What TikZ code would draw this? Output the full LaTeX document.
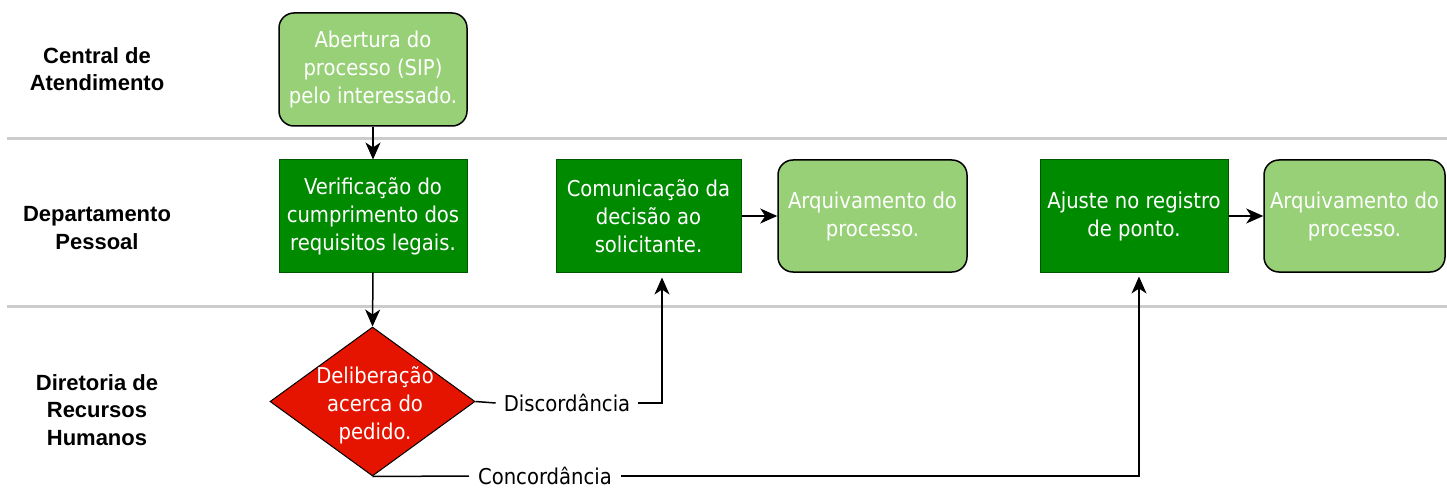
\documentclass[tikz,border=0pt]{standalone}
\usepackage{fontspec}
\setmainfont{DejaVu Sans Condensed}
\newfontfamily\lanefont{Liberation Sans}
\usetikzlibrary{shapes.geometric,arrows.meta}
\definecolor{lgreen}{HTML}{97D077}
\definecolor{dgreen}{HTML}{008A00}
\definecolor{dgreenline}{HTML}{005700}
\definecolor{dred}{HTML}{E51400}
\definecolor{lanegray}{HTML}{CCCCCC}
\tikzset{
  body/.style={font=\fontsize{21.8}{28}\selectfont, align=center, text=white},
  roundbox/.style={body, draw=black, line width=1.5pt, fill=lgreen, rounded corners=15pt, minimum width=188pt, minimum height=113pt, inner sep=0pt},
  rectbox/.style={body, draw=dgreenline, line width=1pt, fill=dgreen, minimum width=188pt, minimum height=112pt, inner sep=0pt},
  decbox/.style={body, draw=black, line width=1pt, fill=dred, diamond, minimum width=205pt, minimum height=149pt, inner sep=0pt, aspect=1.376},
  lanelabel/.style={font=\lanefont\bfseries\fontsize{22}{27.5}\selectfont, align=center, text=black},
  edgelabel/.style={font=\fontsize{21.8}{28}\selectfont, text=black, fill=white, inner ysep=2pt},
  lane/.style={draw=lanegray, line width=3pt},
  conn/.style={draw=black, line width=1.5pt},
  arr/.style={conn, -{Stealth[length=17pt, width=15pt, inset=5pt]}},
}
\begin{document}
\begin{tikzpicture}[x=1pt,y=-1pt]
\useasboundingbox (0,0) rectangle (1447,497);
% lane separators
\coordinate (l1a) at (7,139); \coordinate (l1b) at (1447,139);
\coordinate (l2a) at (7,306); \coordinate (l2b) at (1447,306);
\draw[lane] (l1a) -- (l1b);
\draw[lane] (l2a) -- (l2b);
% lane labels
\node[lanelabel] (lane1) at (97,69) {Central de\\Atendimento};
\node[lanelabel] (lane2) at (97,228) {Departamento\\Pessoal};
\node[lanelabel] (lane3) at (97,410) {Diretoria de\\Recursos\\Humanos};
% nodes
\node[roundbox] (abert) at (373,69.5) {Abertura do\\processo (SIP)\\pelo interessado.};
\node[rectbox] (verif) at (373,216) {Verificação do\\cumprimento dos\\requisitos legais.};
\node[decbox] (delib) at (372.5,401.5) {};
\node[body] (delibtxt) at (375,405) {Deliberação\\acerca do\\pedido.};
\node[rectbox, minimum width=185pt] (comun) at (648.5,216) {Comunicação da\\decisão ao\\solicitante.};
\node[roundbox, minimum width=189pt, minimum height=112pt] (arq1) at (872.5,216) {Arquivamento do\\processo.};
\node[rectbox] (ajuste) at (1134,216) {Ajuste no registro\\de ponto.};
\node[roundbox, minimum width=181pt, minimum height=112pt] (arq2) at (1354.5,216) {Arquivamento do\\processo.};
% edge labels
\node[edgelabel, inner xsep=8pt] (disc) at (567,403) {Discordância};
\node[edgelabel, inner xsep=9pt] (conc) at (545,476) {Concordância};
% coordinates
\coordinate (comunin) at ([yshift=-5pt]comun.south -| 662,0);
\coordinate (discturn) at (662,403);
\coordinate (ajustein) at ([yshift=-4pt]ajuste.south -| 1139,0);
\coordinate (concturn) at (1139,476);
% connectors
\draw[arr] (abert.south) -- (verif.north);
\draw[arr] (verif.south) -- (delib.north);
\draw[conn] (delib.east) -- (disc.west);
\draw[arr] (disc.east) -- (discturn) -- (comunin);
\draw[conn] (delib.south) -- (conc.west);
\draw[arr] (conc.east) -- (concturn) -- (ajustein);
\draw[arr] (comun.east) -- (arq1.west);
\draw[arr] (ajuste.east) -- (arq2.west);
\end{tikzpicture}
\end{document}
